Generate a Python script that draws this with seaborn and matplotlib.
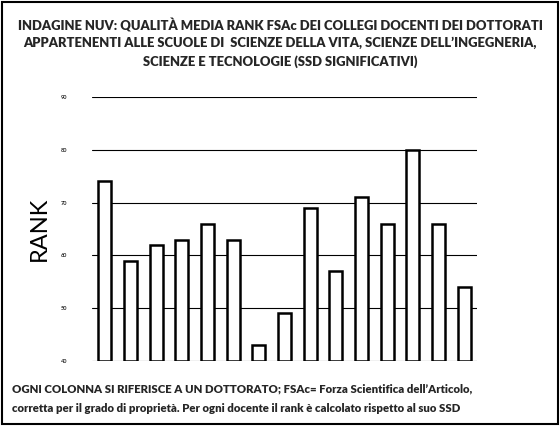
import numpy as np
import pandas as pd
import seaborn as sns
import matplotlib.pyplot as plt
from matplotlib.patches import Rectangle

sns.set_style("white")
plt.rcParams['font.family'] = ['Lato', 'DejaVu Sans']

# one column per doctorate
dottorati = [f"D{i}" for i in range(1, 16)]
rank = [74, 59, 62, 63, 66, 63, 43, 49, 69, 57, 71, 66, 80, 66, 54]
y_ticks = [40, 50, 60, 70, 80, 90]

df = pd.DataFrame(dict(dottorato=dottorati, rank=rank))

fig = plt.figure(figsize=(5.6, 4.28), dpi=100)
ax = fig.add_axes([92 / 560, 1 - 361 / 428, 385 / 560, 264 / 428])

sns.barplot(data=df, x="dottorato", y="rank", color="white", edgecolor="black",
            linewidth=1.8, width=0.5, ax=ax)
# bars start from the bottom of the axis, not from zero
for p, v in zip(ax.patches, rank):
    p.set_y(y_ticks[0])
    p.set_height(v - y_ticks[0])

ax.set_ylim(y_ticks[0], y_ticks[-1])
ax.set_xlim(-0.5, len(dottorati) - 0.5)
ax.set_yticks(y_ticks)
ax.set_yticklabels([str(t) for t in y_ticks], fontsize=4, fontweight="bold")
ax.tick_params(axis="y", pad=18, length=0)
ax.set_xticks([])
ax.set_xlabel("")
ax.set_ylabel("RANK", fontsize=17, labelpad=8, fontweight="normal", color="black")
ax.yaxis.grid(True, color="black", linewidth=0.8)
ax.set_axisbelow(True)
sns.despine(ax=ax, left=True, bottom=True, top=True, right=True)

title_kw = dict(ha="center", va="center", fontsize=9.4, fontweight="heavy")
fig.text(0.5, 1 - 25 / 428,
         "INDAGINE NUV: QUALITÀ MEDIA RANK FSAc DEI COLLEGI DOCENTI DEI DOTTORATI",
         **title_kw)
fig.text(0.5, 1 - 43 / 428,
         "APPARTENENTI ALLE SCUOLE DI  SCIENZE DELLA VITA, SCIENZE DELL’INGEGNERIA,",
         **title_kw)
fig.text(0.5, 1 - 62 / 428,
         "SCIENZE E TECNOLOGIE (SSD SIGNIFICATIVI)",
         **title_kw)

note_kw = dict(ha="left", va="center", fontsize=8.2, fontweight="heavy")
fig.text(12 / 560, 1 - 389 / 428,
         "OGNI COLONNA SI RIFERISCE A UN DOTTORATO; FSAc= Forza Scientifica dell’Articolo,",
         **note_kw)
fig.text(12 / 560, 1 - 408 / 428,
         "corretta per il grado di proprietà. Per ogni docente il rank è calcolato rispetto al suo SSD",
         **note_kw)

# frame around the whole slide
fig.add_artist(Rectangle((0.003, 0.01), 0.994, 0.985, transform=fig.transFigure,
                         fill=False, edgecolor="black", linewidth=1.5))

fig.savefig("out.png", dpi=100)
